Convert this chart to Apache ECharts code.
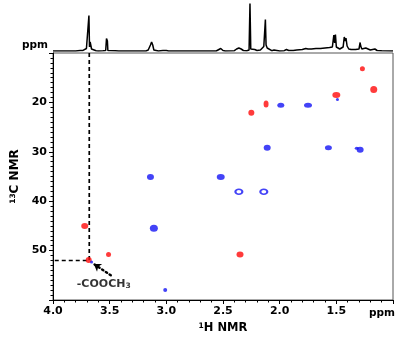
<!DOCTYPE html>
<html>
<head>
<meta charset="utf-8">
<script src="https://cdn.jsdelivr.net/npm/echarts@6/dist/echarts.min.js"></script>
<style>
  html, body { margin: 0; padding: 0; background: #fff; }
  #chart { width: 400px; height: 349px; }
</style>
</head>
<body>
<div id="chart"></div>
<script>
// 1H projection trace: [chemical shift / ppm, relative intensity]
const protonTrace = [
  [4.00, 0], [3.80, 0], [3.76, 0.5], [3.745, 1.2], [3.735, 0.6], [3.72, 1.5], [3.705, 2.5],
  [3.695, 3.5], [3.688, 1.5], [3.683, 35.5], [3.678, 4], [3.672, 9], [3.665, 5], [3.66, 2],
  [3.645, 1], [3.62, 0.3], [3.60, 0], [3.56, 0.3], [3.535, 0.5], [3.528, 12.5], [3.524, 13.5],
  [3.52, 10], [3.516, 0.5], [3.50, 0], [3.45, 0.3], [3.42, 0], [3.18, 0], [3.16, 1], [3.15, 3],
  [3.14, 6], [3.13, 9], [3.12, 6], [3.115, 4], [3.11, 1], [3.10, 2], [3.09, 0.5], [3.07, 0],
  [3.03, 0.5], [3.015, 2], [3.00, 0.5], [2.98, 0], [2.56, 0], [2.55, 2], [2.52, 2.5], [2.50, 0.5],
  [2.48, 0], [2.40, 0.3], [2.38, 2], [2.36, 3], [2.34, 2], [2.32, 0.5], [2.29, 0.3], [2.27, 1],
  [2.262, 47.5], [2.255, 2], [2.24, 1], [2.22, 1.5], [2.20, 0.5], [2.17, 1], [2.155, 3],
  [2.14, 4.5], [2.13, 6], [2.126, 31.5], [2.12, 6], [2.11, 3], [2.095, 1], [2.07, 0.3],
  [2.05, 1], [2.04, 0.5], [2.00, 0], [1.96, 0.3], [1.94, 1.5], [1.92, 0.5], [1.88, 0.5],
  [1.85, 1], [1.80, 1.5], [1.77, 2.5], [1.75, 2], [1.72, 2], [1.68, 2.5], [1.64, 2.5],
  [1.60, 3], [1.56, 3.5], [1.535, 4], [1.522, 16], [1.515, 8], [1.508, 16.5], [1.50, 4],
  [1.49, 2], [1.47, 2], [1.44, 4], [1.43, 14], [1.425, 15], [1.42, 10], [1.415, 13],
  [1.405, 5], [1.39, 2], [1.37, 1.5], [1.33, 1.5], [1.30, 2], [1.29, 8.5], [1.285, 5],
  [1.28, 7], [1.275, 2], [1.26, 1], [1.24, 3], [1.23, 1], [1.20, 1], [1.18, 1.5], [1.16, 2],
  [1.14, 0.5], [1.10, 0.3], [1.00, 0]
];

// HSQC cross peaks, [1H ppm, 13C ppm]
const positivePeaks = [
  [1.27, 13.2], [1.17, 17.4], [1.50, 18.5], [2.12, 20.3], [2.25, 22.1],
  [3.72, 45.0], [3.51, 50.8], [3.685, 51.9], [2.35, 50.8]
];
const negativePeaks = [
  [1.49, 19.4], [1.99, 20.6], [1.75, 20.6], [2.11, 29.2], [1.57, 29.2],
  [1.29, 29.6], [1.32, 29.3], [3.14, 35.1], [2.52, 35.1], [3.11, 45.5],
  [3.66, 52.3], [3.01, 58.0]
];
const negativeRingPeaks = [[2.36, 38.1], [2.14, 38.1]];

// Ester methyl assignment and its annotation
const esterMethyl = [3.68, 52.0];
const arrowFrom = [3.49, 55.0];
const arrowTo = [3.64, 52.7];
const esterLabelAt = [3.79, 56.8];

// Axis ranges and labelled ticks
const hRange = [1.0, 4.0];
const cRange = [10, 60];
const hTickLabels = [4.0, 3.5, 3.0, 2.5, 2.0, 1.5];
const cTickLabels = [20, 30, 40, 50];

// Contour spot sizes (px), same order as the peak lists
const positiveSizes = [[5,5],[7,7],[8,6],[5,7],[6,6],[7,6],[5,5],[6,6],[7,6]];
const negativeSizes = [[3,3],[7,5],[8,5],[7,6],[7,5],[7,6],[4,3],[7,6],[8,6],[8,7],[3,3],[4,4]];

const RED = '#ff0a0a';
const BLUE = '#1414f5';
const FONT = 'DejaVu Sans';

const chart = echarts.init(document.getElementById('chart'), null, { renderer: 'canvas' });

const labelStyle = { fontFamily: FONT, fontWeight: 'bold', fontSize: 11, color: '#000' };
const supStyle = { fontFamily: FONT, fontWeight: 'bold', fontSize: 7.5, verticalAlign: 'top', color: '#000' };

chart.setOption({
  animation: false,
  backgroundColor: '#fff',
  grid: [
    { left: 53, top: 53, width: 340, height: 247, show: true, borderColor: '#555', borderWidth: 1, containLabel: false },
    { left: 53, top: 3, width: 340, height: 48, show: false }
  ],
  xAxis: [
    {
      gridIndex: 0, type: 'value', inverse: true, min: hRange[0], max: hRange[1], interval: 0.5,
      name: '{sup|1}H NMR', nameLocation: 'middle', nameGap: 19,
      nameTextStyle: {
        fontFamily: FONT, fontWeight: 'bold', fontSize: 11.5, color: '#000',
        rich: { sup: supStyle }
      },
      axisLine: { show: true, lineStyle: { color: '#000', width: 1 } },
      axisTick: { show: true, inside: false, length: 4, lineStyle: { color: '#000' } },
      minorTick: { show: true, splitNumber: 5, length: 2.5, lineStyle: { color: '#000' } },
      splitLine: { show: false },
      axisLabel: Object.assign({}, labelStyle, {
        margin: 6,
        formatter: v => hTickLabels.some(t => Math.abs(t - v) < 1e-6) ? v.toFixed(1) : ''
      })
    },
    {
      gridIndex: 1, type: 'value', inverse: true, min: hRange[0], max: hRange[1],
      show: false
    }
  ],
  yAxis: [
    {
      gridIndex: 0, type: 'value', inverse: true, min: cRange[0], max: cRange[1], interval: 10,
      name: '{sup|13}C NMR', nameLocation: 'middle', nameGap: 29, nameRotate: 90,
      nameTextStyle: {
        fontFamily: FONT, fontWeight: 'bold', fontSize: 12, color: '#000',
        rich: { sup: supStyle }
      },
      axisLine: { show: true, lineStyle: { color: '#000', width: 1 } },
      axisTick: { show: true, inside: false, length: 4, lineStyle: { color: '#000' } },
      minorTick: { show: true, splitNumber: 10, length: 2.5, lineStyle: { color: '#000' } },
      splitLine: { show: false },
      axisLabel: Object.assign({}, labelStyle, {
        margin: 6,
        formatter: v => cTickLabels.indexOf(v) >= 0 ? String(v) : ''
      })
    },
    {
      gridIndex: 1, type: 'value', min: 0, max: 48, show: false
    }
  ],
  graphic: [
    { type: 'text', left: 22, top: 40, style: { text: 'ppm', font: 'bold 10.5px "DejaVu Sans"', fill: '#000' } },
    { type: 'text', left: 369, top: 308, style: { text: 'ppm', font: 'bold 10.5px "DejaVu Sans"', fill: '#000' } }
  ],
  series: [
    {
      type: 'line', xAxisIndex: 1, yAxisIndex: 1, data: protonTrace,
      showSymbol: false, symbol: 'none', smooth: false,
      lineStyle: { color: '#000', width: 1.5 }
    },
    {
      // assignment guides for the ester methyl group
      type: 'line', xAxisIndex: 0, yAxisIndex: 0,
      data: [[esterMethyl[0], cRange[0]], esterMethyl, [hRange[1], esterMethyl[1]]],
      symbol: 'none', z: 1,
      lineStyle: { color: '#000', width: 1.7, type: [4, 3] },
      markLine: {
        silent: true, symbol: ['none', 'arrow'], symbolSize: 7,
        lineStyle: { color: '#000', width: 2.4, type: [1.5, 3], cap: 'round' },
        label: { show: false },
        data: [[{ coord: arrowFrom }, { coord: arrowTo }]]
      }
    },
    {
      type: 'scatter', xAxisIndex: 0, yAxisIndex: 0, z: 3,
      data: positivePeaks,
      symbol: 'circle',
      symbolSize: (v, p) => positiveSizes[p.dataIndex],
      itemStyle: { color: RED }
    },
    {
      type: 'scatter', xAxisIndex: 0, yAxisIndex: 0, z: 4,
      data: negativePeaks,
      symbol: 'circle',
      symbolSize: (v, p) => negativeSizes[p.dataIndex],
      itemStyle: { color: BLUE }
    },
    {
      type: 'scatter', xAxisIndex: 0, yAxisIndex: 0, z: 4,
      data: negativeRingPeaks,
      symbol: 'circle', symbolSize: [7, 5],
      itemStyle: { color: '#fff', borderColor: BLUE, borderWidth: 1.8 }
    },
    {
      type: 'scatter', xAxisIndex: 0, yAxisIndex: 0, z: 5,
      data: [esterLabelAt], symbolSize: 0, silent: true,
      label: {
        show: true, position: 'inside', align: 'left', verticalAlign: 'middle',
        formatter: '-COOCH{sub|3}',
        fontFamily: FONT, fontWeight: 'bold', fontSize: 11, color: '#000',
        rich: { sub: { fontFamily: FONT, fontWeight: 'bold', fontSize: 7.5, verticalAlign: 'bottom', color: '#000' } }
      }
    }
  ]
});
</script>
</body>
</html>
